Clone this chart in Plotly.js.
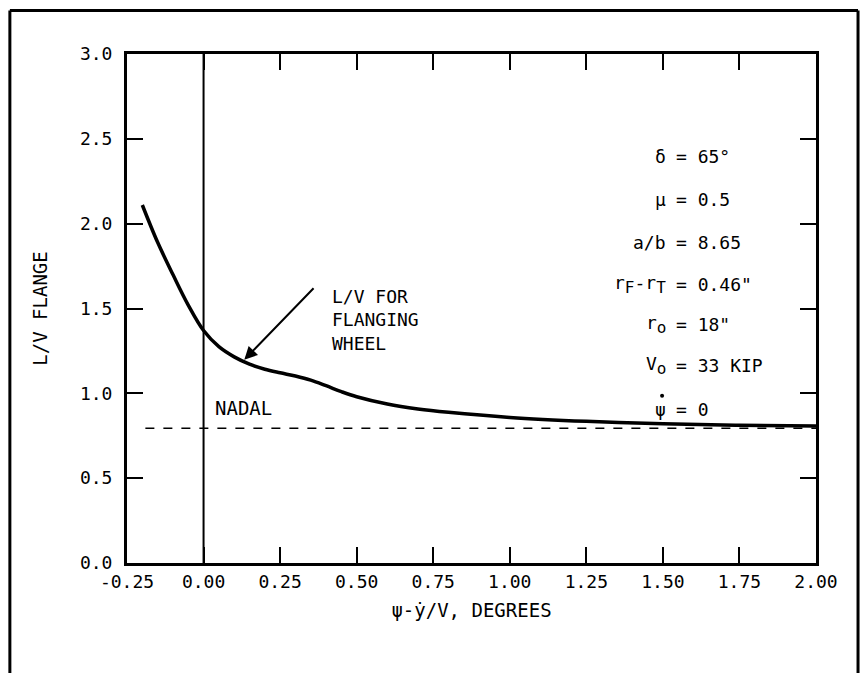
<!DOCTYPE html>
<html>
<head>
<meta charset="utf-8">
<script src="https://cdn.plot.ly/plotly-3.0.1.min.js"></script>
<style>body{margin:0;padding:0;background:#fff;}#chart{width:864px;height:673px;}</style>
</head>
<body>
<div id="chart"></div>
<script>
// Data
const curveX = [-0.20, -0.15, -0.10, -0.05, 0.0, 0.05, 0.10, 0.15, 0.20, 0.25, 0.30, 0.35, 0.40, 0.45, 0.50, 0.60, 0.70, 0.80, 1.00, 1.25, 1.50, 1.75, 2.00];
const curveY = [2.11, 1.89, 1.70, 1.52, 1.37, 1.275, 1.215, 1.172, 1.142, 1.121, 1.102, 1.078, 1.045, 1.010, 0.980, 0.937, 0.908, 0.888, 0.858, 0.835, 0.820, 0.812, 0.808];
const nadalX = [-0.19, 2.0];
const nadalY = [0.794, 0.794];
const zeroLineX = [0, 0];
const zeroLineY = [0, 3];
const xTicks = [-0.25, 0, 0.25, 0.5, 0.75, 1.0, 1.25, 1.5, 1.75, 2.0];
const xTickText = ["-0.25", "0.00", "0.25", "0.50", "0.75", "1.00", "1.25", "1.50", "1.75", "2.00"];
const yTicks = [0, 0.5, 1.0, 1.5, 2.0, 2.5, 3.0];
const yTickText = ["0.0", "0.5", "1.0", "1.5", "2.0", "2.5", "3.0"];
const SUB = (s) => "<sub><span style='font-size:16px'>" + s + "</span></sub>";
const paramLeft = ["δ", "μ", "a/b", "r" + SUB("F") + "-r" + SUB("T"), "r" + SUB("o"), "V" + SUB("o"), "ψ"];
const paramRight = ["= 65°", "= 0.5", "= 8.65", "= 0.46\"", "= 18\"", "= 33 KIP", "= 0"];
const paramY = [2.395, 2.14, 1.888, 1.64, 1.404, 1.162, 0.903];

const FONT = "DejaVu Sans Mono";
const fnt = {family: FONT, size: 18, color: "#000"};
const titleFnt = {family: FONT, size: 19, color: "#000"};

const traces = [
  {x: zeroLineX, y: zeroLineY, mode: "lines", line: {color: "#000", width: 2}, hoverinfo: "skip", showlegend: false},
  {x: nadalX, y: nadalY, mode: "lines", line: {color: "#000", width: 1.5, dash: "dash"}, showlegend: false},
  {x: curveX, y: curveY, mode: "lines", line: {color: "#000", width: 3.5, shape: "spline", smoothing: 1}, showlegend: false}
];

const annotations = [];
for (let i = 0; i < paramLeft.length; i++) {
  annotations.push({x: 1.517, y: paramY[i], xref: "x", yref: "y", text: paramLeft[i], showarrow: false, xanchor: "right", yanchor: "middle", font: fnt});
  annotations.push({x: 1.536, y: paramY[i], xref: "x", yref: "y", text: paramRight[i], showarrow: false, xanchor: "left", yanchor: "middle", font: fnt});
}
annotations.push({x: 0.413, y: 1.43, xref: "x", yref: "y", text: "L/V FOR<br>FLANGING<br>WHEEL", align: "left", showarrow: false, xanchor: "left", yanchor: "middle", font: fnt});
annotations.push({x: 0.133, y: 1.198, xref: "x", yref: "y", ax: 0.364, ay: 1.628, axref: "x", ayref: "y", text: "", showarrow: true, arrowhead: 2, arrowsize: 1.3, arrowwidth: 2, arrowcolor: "#000"});
annotations.push({x: 0.031, y: 0.914, xref: "x", yref: "y", text: "NADAL", showarrow: false, xanchor: "left", yanchor: "middle", font: {family: FONT, size: 19, color: "#000"}});

const shapes = [
  {type: "line", xref: "paper", yref: "paper", x0: -0.17, x1: -0.17, y0: -0.25, y1: 1.0855, line: {color: "#000", width: 3}},
  {type: "line", xref: "paper", yref: "paper", x0: -0.17, x1: 1.061, y0: 1.0855, y1: 1.0855, line: {color: "#000", width: 3}},
  {type: "line", xref: "paper", yref: "paper", x0: 1.061, x1: 1.061, y0: -0.25, y1: 1.0855, line: {color: "#000", width: 3}},
  // dot over psi (psi-dot)
  {type: "circle", xref: "x", yref: "y", xsizemode: "pixel", ysizemode: "pixel", xanchor: 1.517, yanchor: paramY[6],
   x0: -8, x1: -4, y0: 12, y1: 16, fillcolor: "#000", line: {color: "#000", width: 0}}
];

const layout = {
  width: 864, height: 673,
  margin: {l: 127, r: 48, t: 54, b: 110},
  paper_bgcolor: "#fff", plot_bgcolor: "#fff",
  font: fnt,
  showlegend: false,
  xaxis: {
    range: [-0.25, 2.0], tickvals: xTicks, ticktext: xTickText,
    showgrid: false, zeroline: false, showline: true, linewidth: 3, linecolor: "#000", mirror: "ticks",
    ticks: "inside", ticklen: 16, tickwidth: 2, tickcolor: "#000",
    tickfont: fnt,
    title: {text: "ψ-ẏ/V, DEGREES", font: titleFnt, standoff: 14}
  },
  yaxis: {
    range: [0, 3.0], tickvals: yTicks, ticktext: yTickText,
    showgrid: false, zeroline: false, showline: true, linewidth: 3, linecolor: "#000", mirror: "ticks",
    ticks: "inside", ticklen: 16, tickwidth: 2, tickcolor: "#000",
    tickfont: fnt, ticklabelstandoff: 8,
    title: {text: "L/V FLANGE", font: titleFnt, standoff: 28}
  },
  annotations: annotations,
  shapes: shapes
};

Plotly.newPlot("chart", traces, layout, {displayModeBar: false, staticPlot: true});
</script>
</body>
</html>
